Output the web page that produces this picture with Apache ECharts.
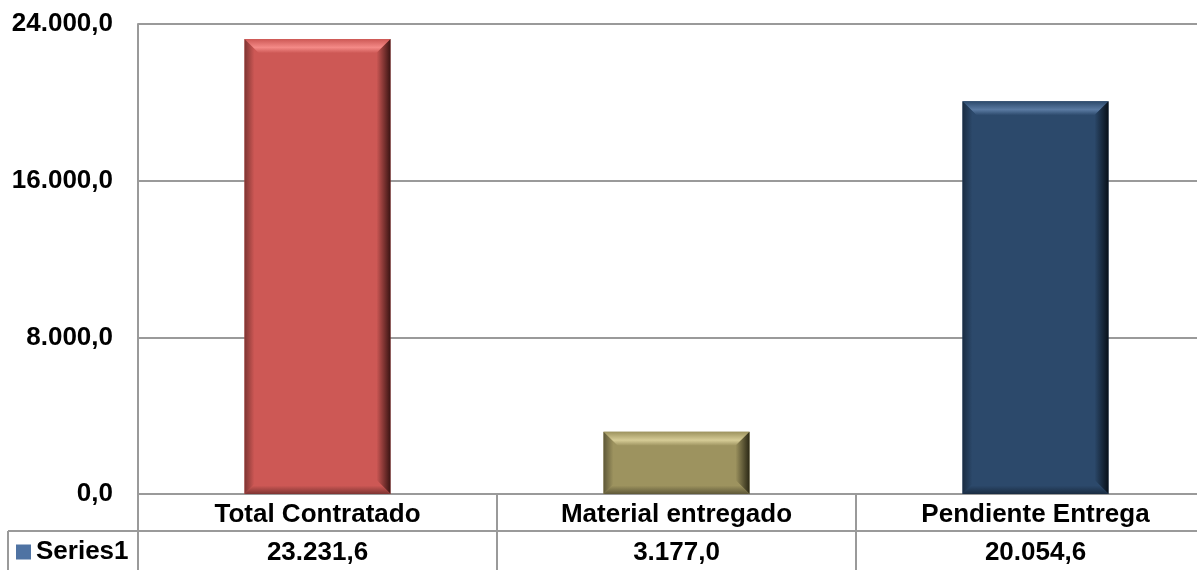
<!DOCTYPE html>
<html>
<head>
<meta charset="utf-8">
<script src="https://cdn.jsdelivr.net/npm/echarts@6/dist/echarts.min.js"></script>
<style>
  html, body { margin: 0; padding: 0; background: #fff; }
  #myChart { width: 1197px; height: 570px; }
</style>
</head>
<body>
<div id="myChart"></div>
<script>
// categories and values
const categories = ['Total Contratado', 'Material entregado', 'Pendiente Entrega']
const values = [23231.6, 3177.0, 20054.6]
const seriesName = 'Series1'
// y axis ticks
const yMin = 0
const yMax = 24000
const yStep = 8000

// bar colours (face, light top, dark right, darker left / bottom)
const faceColors = ['#cd5855', '#9d935f', '#2c496b']
const lightColors = ['#f48a87', '#d6cc96', '#5a7aa2']
const darkColors = ['#3a1413', '#2b2815', '#081019']
const edgeColors = ['#7e3432', '#5e5838', '#1a2c42']

const font = "'Liberation Sans', Arial, sans-serif"
const lineColor = '#9a9a9a'

// 23231.6 -> 23.231,6
function fmt(v) {
  const parts = v.toFixed(1).split('.')
  const intPart = parts[0].replace(/\B(?=(\d{3})+(?!\d))/g, '.')
  return intPart + ',' + parts[1]
}

const valueLabels = values.map(v => fmt(v))

function lg(x, y, x2, y2, stops) {
  return new echarts.graphic.LinearGradient(x, y, x2, y2, stops)
}

// bevelled bar
function renderBar(params, api) {
  const idx = api.value(0)
  const top = api.coord([idx, api.value(1)])
  const base = api.coord([idx, 0])
  const w = 146
  const x0 = top[0] - w / 2
  const x1 = x0 + w
  const y0 = top[1]
  const y1 = base[1]
  const b = Math.min(14, (y1 - y0) / 2)
  const face = faceColors[idx]
  const light = lightColors[idx]
  const dark = darkColors[idx]
  const edge = edgeColors[idx]
  return {
    type: 'group',
    children: [
      {
        type: 'rect',
        shape: { x: x0, y: y0, width: w, height: y1 - y0 },
        style: { fill: face }
      },
      // top
      {
        type: 'polygon',
        shape: { points: [[x0, y0], [x1, y0], [x1 - b, y0 + b], [x0 + b, y0 + b]] },
        style: { fill: lg(0, 0, 0, 1, [{ offset: 0, color: face }, { offset: 0.6, color: light }, { offset: 1, color: face }]) }
      },
      // left
      {
        type: 'polygon',
        shape: { points: [[x0, y0], [x0 + b, y0 + b], [x0 + b, y1 - b], [x0, y1]] },
        style: { fill: lg(0, 0, 1, 0, [{ offset: 0, color: edge }, { offset: 0.7, color: face }, { offset: 1, color: face }]) }
      },
      // right
      {
        type: 'polygon',
        shape: { points: [[x1, y0], [x1, y1], [x1 - b, y1 - b], [x1 - b, y0 + b]] },
        style: { fill: lg(0, 0, 1, 0, [{ offset: 0, color: face }, { offset: 1, color: dark }]) }
      },
      // bottom
      {
        type: 'polygon',
        shape: { points: [[x0, y1], [x1, y1], [x1 - b, y1 - b], [x0 + b, y1 - b]] },
        style: { fill: lg(0, 0, 0, 1, [{ offset: 0, color: face }, { offset: 0.4, color: face }, { offset: 1, color: edge }]) }
      }
    ]
  }
}

const myChart = echarts.init(document.getElementById('myChart'))
const option = {
  backgroundColor: '#fff',
  animation: false,
  textStyle: { fontFamily: font },
  grid: { left: 138, top: 24, width: 1077, height: 470, outerBoundsMode: 'none' },
  legend: {
    left: 16,
    top: 539,
    padding: 0,
    icon: 'rect',
    itemWidth: 15,
    itemHeight: 15,
    textStyle: { fontSize: 26, fontWeight: 'bold', color: '#000', fontFamily: font },
    data: [seriesName]
  },
  xAxis: [
    {
      type: 'category',
      data: categories,
      position: 'bottom',
      axisLine: { lineStyle: { color: lineColor, width: 2 } },
      axisTick: { show: true, interval: 0, length: 76, lineStyle: { color: lineColor, width: 2 } },
      axisLabel: { interval: 0, margin: 8, fontSize: 26, fontWeight: 'bold', color: '#000', lineHeight: 26, fontFamily: font }
    },
    {
      // data table value row
      type: 'category',
      data: valueLabels,
      position: 'bottom',
      offset: 37,
      axisLine: { show: false },
      axisTick: { show: false },
      axisLabel: { interval: 0, margin: 9, fontSize: 26, fontWeight: 'bold', color: '#000', lineHeight: 26, fontFamily: font }
    }
  ],
  yAxis: {
    type: 'value',
    min: yMin,
    max: yMax,
    interval: yStep,
    axisLine: { show: true, lineStyle: { color: lineColor, width: 2 } },
    axisTick: { show: false },
    splitLine: { lineStyle: { color: lineColor, width: 2 } },
    axisLabel: { margin: 25, fontSize: 26, fontWeight: 'bold', color: '#000', fontFamily: font, formatter: v => fmt(v) }
  },
  graphic: [
    {
      type: 'line',
      shape: { x1: 8, y1: 531, x2: 1197, y2: 531 },
      style: { stroke: lineColor, lineWidth: 2 }
    },
    {
      type: 'line',
      shape: { x1: 8, y1: 531, x2: 8, y2: 570 },
      style: { stroke: lineColor, lineWidth: 2 }
    }
  ],
  series: [{
    name: seriesName,
    type: 'custom',
    xAxisIndex: 0,
    itemStyle: { color: '#4f73a3' },
    renderItem: renderBar,
    encode: { x: 0, y: 1 },
    data: values.map((v, i) => [i, v])
  }]
}
myChart.setOption(option)
</script>
</body>
</html>
